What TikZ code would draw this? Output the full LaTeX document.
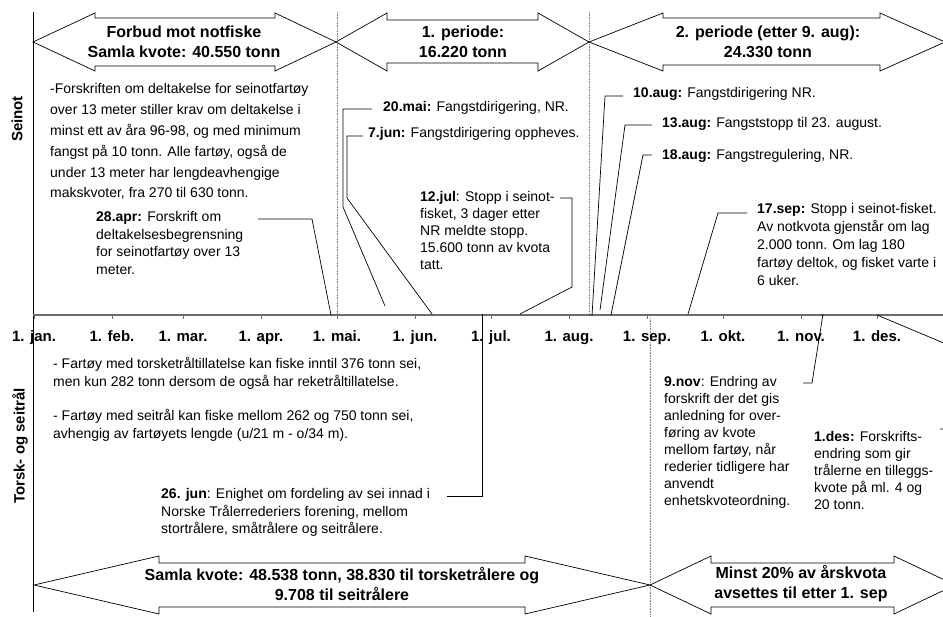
\documentclass[tikz,border=0pt]{standalone}
\usepackage{fontspec}
\setmainfont{Liberation Sans}
\newcommand{\blk}[1]{\begin{tabular}[t]{@{}l@{}}#1\end{tabular}}
\begin{document}
\begin{tikzpicture}[x=1pt,y=-1pt,
  txt/.style={inner sep=0pt, anchor=base west, font=\fontsize{14}{17.5}\selectfont},
  arrtxt/.style={inner sep=0pt, align=center, font=\bfseries\fontsize{16}{20}\selectfont},
  month/.style={inner sep=0pt, anchor=base, font=\bfseries\fontsize{15}{18}\selectfont},
  axlabel/.style={inner sep=0pt, rotate=90, font=\bfseries\fontsize{15}{18}\selectfont},
  lead/.style={draw=black, line width=0.7pt},
  bigarrow/.style={draw=black, fill=white, line width=0.7pt, line join=miter},
  vdot/.style={draw=gray, densely dotted, line width=0.6pt},
  tline/.style={draw=gray!85!black, line width=1.4pt},
  monthtick/.style={draw=gray!85!black, line width=1pt}]
\useasboundingbox (0,0) rectangle (943,617);
\clip (0,0) rectangle (943,617);

% dotted period separators
\draw[vdot] (337,12) -- (337,315);
\draw[vdot] (589,12) -- (589,315);
\draw[vdot] (650,318) -- (650,617);

% top double arrows
\draw[bigarrow] (33,42) -- (95,13) -- (95,18) -- (275,18) -- (275,13) -- (336,42)
  -- (275,71) -- (275,66) -- (95,66) -- (95,71) -- cycle;
\draw[bigarrow] (336,42) -- (387,13) -- (387,20) -- (538,20) -- (538,13) -- (589,42)
  -- (538,71) -- (538,63) -- (387,63) -- (387,71) -- cycle;
\draw[bigarrow] (589,42) -- (663,13) -- (663,18) -- (880,18) -- (880,13) -- (945,42)
  -- (880,71) -- (880,65) -- (663,65) -- (663,71) -- cycle;
\node[arrtxt] (a1) at (184,42) {Forbud mot notfiske\\Samla kvote: 40.550 tonn};
\node[arrtxt] (a2) at (463,42) {1. periode:\\16.220 tonn};
\node[arrtxt] (a3) at (768,42) {2. periode (etter 9. aug):\\24.330 tonn};

% bottom double arrows
\draw[bigarrow] (34,585) -- (159,556) -- (159,563) -- (525,563) -- (525,556) -- (650,585)
  -- (525,614) -- (525,607) -- (159,607) -- (159,614) -- cycle;
\draw[bigarrow] (650,585) -- (711,556) -- (711,563) -- (894,563) -- (894,556) -- (955,585)
  -- (894,614) -- (894,607) -- (711,607) -- (711,614) -- cycle;
\node[arrtxt] (a4) at (342,584) {Samla kvote: 48.538 tonn, 38.830 til torsketrålere og\\9.708 til seitrålere};
\node[arrtxt] (a5) at (801,584) {Minst 20\% av årskvota\\avsettes til etter 1. sep};

% axes
\draw[line width=0.8pt] (33,12) -- (33,612);
\draw[tline] (33,315) -- (943,315);
\foreach \x/\m in {34/jan., 112/feb., 183/mar., 261/apr., 337/mai., 415/jun., 491/jul., 569/aug., 647/sep., 723/okt., 801/nov., 877/des.} {
  \draw[monthtick] (\x,315) -- (\x,319);
  \node[month] (m-\m) at (\x,342) {1. \m};
}
\node[axlabel] (lab-seinot) at (17,119) {Seinot};
\node[axlabel] (lab-torsk) at (20,446) {Torsk- og seitrål};

% time points on the axis
\coordinate (d-apr28) at (331,315);
\coordinate (d-mai20) at (385,306);
\coordinate (d-jun07) at (432,314);
\coordinate (d-jun26) at (482,314);
\coordinate (d-jul12) at (520,314);
\coordinate (d-aug10) at (592,316);
\coordinate (d-aug13) at (600,310);
\coordinate (d-aug18) at (611,315);
\coordinate (d-sep17) at (688,314);
\coordinate (d-nov09) at (823,314);
\coordinate (d-des01) at (877,315);

% Seinot texts
\node[txt, font=\fontsize{14}{20.8}\selectfont] (t-forskrift) at (50,94) {\blk{-Forskriften om deltakelse for seinotfartøy\\over 13 meter stiller krav om deltakelse i\\minst ett av åra 96-98, og med minimum\\fangst på 10 tonn. Alle fartøy, også de\\under 13 meter har lengdeavhengige\\makskvoter, fra 270 til 630 tonn.}};
\node[txt] (t-apr28) at (96,222) {\blk{\textbf{28.apr:} Forskrift om\\deltakelsesbegrensning\\for seinotfartøy over 13\\meter.}};
\node[txt] (t-mai20) at (383,112) {\textbf{20.mai:} Fangstdirigering, NR.};
\node[txt] (t-jun07) at (368,138) {\textbf{7.jun:} Fangstdirigering oppheves.};
\node[txt, font=\fontsize{14}{17}\selectfont] (t-jul12) at (420,202) {\blk{\textbf{12.jul}: Stopp i seinot-\\fisket, 3 dager etter\\NR meldte stopp.\\15.600 tonn av kvota\\tatt.}};
\node[txt] (t-aug10) at (633,98) {\textbf{10.aug:} Fangstdirigering NR.};
\node[txt] (t-aug13) at (662,128) {\textbf{13.aug:} Fangststopp til 23. august.};
\node[txt] (t-aug18) at (662,160) {\textbf{18.aug:} Fangstregulering, NR.};
\node[txt, font=\fontsize{14}{17.8}\selectfont] (t-sep17) at (757,214) {\blk{\textbf{17.sep:} Stopp i seinot-fisket.\\Av notkvota gjenstår om lag\\2.000 tonn. Om lag 180\\fartøy deltok, og fisket varte i\\6 uker.}};

% Torsk- og seitrål texts
\node[txt, font=\fontsize{14}{17.3}\selectfont] (t-torsk1) at (53,369) {\blk{- Fartøy med torsketråltillatelse kan fiske inntil 376 tonn sei,\\men kun 282 tonn dersom de også har reketråltillatelse.}};
\node[txt, font=\fontsize{14}{17.3}\selectfont] (t-torsk2) at (53,421) {\blk{- Fartøy med seitrål kan fiske mellom 262 og 750 tonn sei,\\avhengig av fartøyets lengde (u/21 m - o/34 m).}};
\node[txt] (t-jun26) at (161,499) {\blk{\textbf{26. jun}: Enighet om fordeling av sei innad i\\Norske Trålerrederiers forening, mellom\\stortrålere, småtrålere og seitrålere.}};
\node[txt, font=\fontsize{14}{17}\selectfont] (t-nov09) at (664,387) {\blk{\textbf{9.nov}: Endring av\\forskrift der det gis\\anledning for over-\\føring av kvote\\mellom fartøy, når\\rederier tidligere har\\anvendt\\enhetskvoteordning.}};
\node[txt, font=\fontsize{14}{17}\selectfont] (t-des01) at (814,442) {\blk{\textbf{1.des:} Forskrifts-\\endring som gir\\trålerne en tilleggs-\\kvote på ml. 4 og\\20 tonn.}};

% leader lines
\draw[lead] (258,219) -- (312,219) -- (d-apr28);
\draw[lead] (372,109) -- (343,109) -- (343,207) -- (d-mai20);
\draw[lead] (363,136) -- (347,136) -- (347,198) -- (d-jun07);
\draw[lead] (560,198) -- (572,198) -- (572,287) -- (d-jul12);
\draw[lead] (623,96) -- (605,96) -- (d-aug10);
\draw[lead] (652,125) -- (625,125) -- (d-aug13);
\draw[lead] (652,155) -- (643,155) -- (d-aug18);
\draw[lead] (747,213) -- (718,213) -- (d-sep17);
\draw[lead] (447,496) -- (482,496) -- (d-jun26);
\draw[lead] (803,383) -- (812,383) -- (d-nov09);
\draw[lead] (d-des01) -- (965,352) -- (965,429) -- (940,429);
\end{tikzpicture}
\end{document}
